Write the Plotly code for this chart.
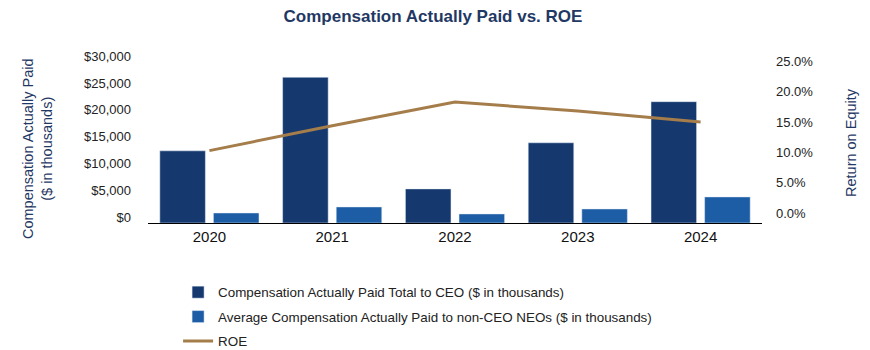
import plotly.graph_objects as go

years = ["2020", "2021", "2022", "2023", "2024"]
ceo_cap = [13480, 27210, 6370, 14980, 22660]
neo_cap = [1870, 3000, 1690, 2620, 4870]
roe = [0.103, 0.144, 0.183, 0.168, 0.150]

names = [
    "Compensation Actually Paid Total to CEO ($ in thousands)",
    "Average Compensation Actually Paid to non-CEO NEOs ($ in thousands)",
    "ROE",
]

C_CEO = "#15396f"
C_NEO = "#1c5da5"
C_ROE = "#a57d4b"
C_TXT = "#1f3864"

fig = go.Figure()
fig.add_trace(go.Bar(x=years, y=ceo_cap, name=names[0], marker_color=C_CEO,
                     legendgroup="a"))
fig.add_trace(go.Bar(x=years, y=neo_cap, name=names[1], marker_color=C_NEO,
                     legendgroup="b"))
fig.add_trace(go.Scatter(x=years, y=roe, name=names[2], mode="lines",
                         line=dict(color=C_ROE, width=3), yaxis="y2",
                         legendgroup="c"))

fig.update_layout(
    width=870, height=350,
    margin=dict(l=148, r=108, t=57, b=127, autoexpand=False),
    paper_bgcolor="white", plot_bgcolor="white",
    font=dict(family="Liberation Sans, Arial, sans-serif", color="#222222"),
    barmode="group", bargap=0.127, bargroupgap=0.15,
    showlegend=True,
    legend=dict(x=0.049, xanchor="left", y=-0.325, yanchor="top",
                orientation="v", traceorder="grouped", tracegroupgap=4,
                font=dict(size=13.4, color="#222222"), itemwidth=30),
    title=dict(text="<b>Compensation Actually Paid vs. ROE</b>", x=433/870,
               xanchor="center", y=0.953, yanchor="middle",
               font=dict(size=17, color=C_TXT)),
    xaxis=dict(showline=True, linecolor="black", linewidth=1.3, ticks="",
               tickfont=dict(size=15, color="#111111"), showgrid=False),
    yaxis=dict(range=[0, 31000], tickvals=[0, 5000, 10000, 15000, 20000, 25000, 30000],
               tickformat="$,.0f", showgrid=False, zeroline=False,
               tickfont=dict(size=13, color="#222222"), ticklabelshift=-6,
               ticklabelstandoff=16),
    yaxis2=dict(range=[-0.016, 0.257], overlaying="y", side="right",
                tickvals=[0, 0.05, 0.10, 0.15, 0.20, 0.25], tickformat=".1%",
                showgrid=False, zeroline=False,
                tickfont=dict(size=13, color="#222222"), ticklabelstandoff=13),
    annotations=[
        dict(text="Compensation Actually Paid<br>($ in thousands)", xref="paper", yref="paper",
             x=0, y=0.5, xshift=-111, yshift=-9, textangle=-90, showarrow=False,
             xanchor="center", yanchor="middle", font=dict(size=14.5, color=C_TXT)),
        dict(text="Return on Equity", xref="paper", yref="paper",
             x=1, y=0.5, xshift=89, yshift=-3, textangle=-90, showarrow=False,
             xanchor="center", yanchor="middle", font=dict(size=14.5, color=C_TXT)),
    ],
)

fig.write_html("out.html")
